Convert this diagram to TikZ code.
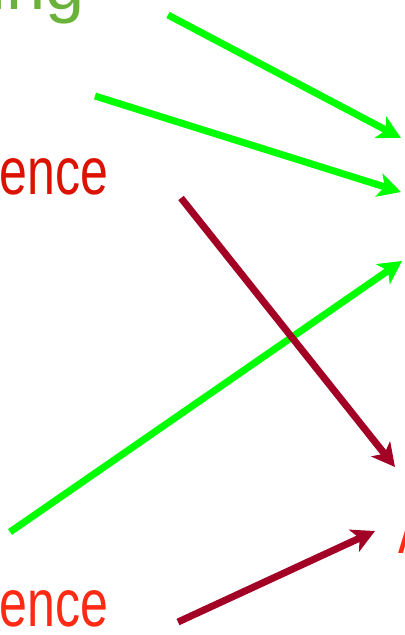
\documentclass[tikz,border=0pt]{standalone}
\usepackage{fontspec}
\setmainfont{Liberation Sans}
\usetikzlibrary{arrows.meta}
\definecolor{leafgreen}{rgb}{0.42,0.70,0.23}
\definecolor{brightred}{rgb}{0.86,0.07,0.0}
\definecolor{orangered}{rgb}{1.0,0.16,0.08}
\definecolor{limegreen}{rgb}{0.0,1.0,0.0}
\definecolor{winered}{rgb}{0.64,0.0,0.15}
\newcommand{\narrow}[1]{\scalebox{0.75}[1]{\fontsize{38}{46}\selectfont #1}}
\newcommand{\wide}[1]{{\fontsize{40}{48}\selectfont #1}}
\tikzset{
  etiqueta/.style={
    anchor=base west,
    inner sep=0pt
  },
  flecha/.style={
    -{Stealth[length=4.6mm,width=4.8mm,inset=1.2mm]},
    line width=4pt
  }
}

\begin{document}
\begin{tikzpicture}[x=0.02cm,y=-0.02cm]
\useasboundingbox (0,0) rectangle (405,635);
\clip (0,0) rectangle (405,635);
% texts cut at the border
\node[etiqueta,anchor=base east,text=leafgreen] (ing) at (85,10) {\wide{ing}};
\node[etiqueta,text=brightred] (ence1) at (-1,194) {\narrow{ence}};
\node[etiqueta,text=orangered] (ence2) at (-1,626) {\narrow{ence}};
\node[etiqueta,text=orangered] (a) at (398,553) {\narrow{A}};
% arrow ends
\coordinate (s1) at (168,15);
\coordinate (t1) at (401,138);
\coordinate (s2) at (95,96);
\coordinate (t2) at (401,192);
\coordinate (s3) at (10,532);
\coordinate (t3) at (402,261);
\coordinate (s4) at (181,198);
\coordinate (t4) at (395,467);
\coordinate (s5) at (178,622);
\coordinate (t5) at (375,531);
\draw[flecha,limegreen] (s1) -- (t1);
\draw[flecha,limegreen] (s2) -- (t2);
\draw[flecha,limegreen] (s3) -- (t3);
\draw[flecha,winered] (s4) -- (t4);
\draw[flecha,winered] (s5) -- (t5);
\end{tikzpicture}
\end{document}
